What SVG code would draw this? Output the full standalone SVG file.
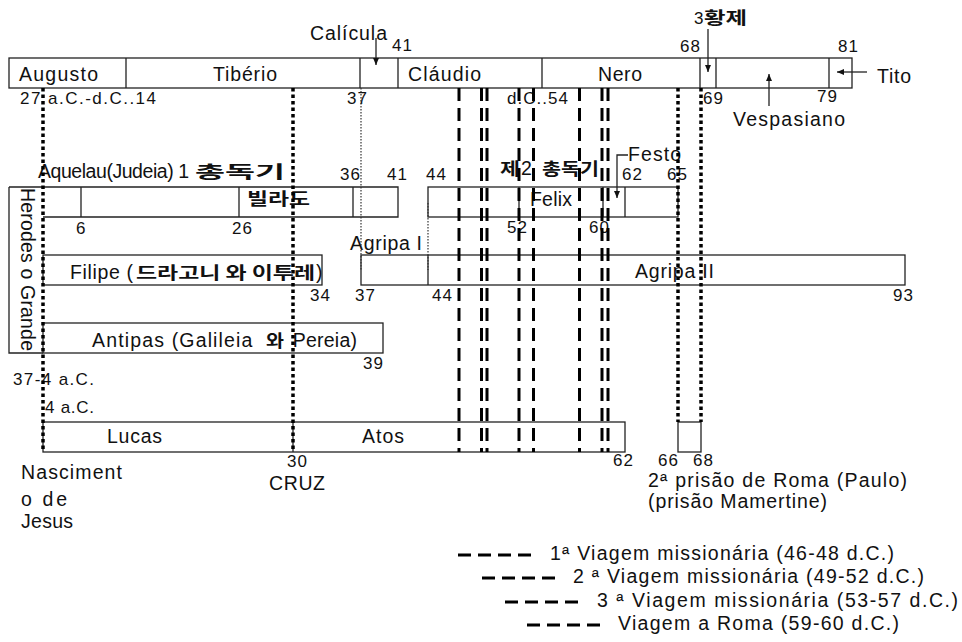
<svg xmlns="http://www.w3.org/2000/svg" width="962" height="642" viewBox="0 0 962 642">
<defs>
<style>
text{font-family:"Liberation Sans","Noto Sans CJK KR",sans-serif;fill:#111;}
.t{font-size:19.5px;letter-spacing:1px}
.n{font-size:17px;letter-spacing:1px}
.k{font-family:"Noto Sans CJK KR",sans-serif;font-weight:bold;font-size:17px;letter-spacing:0}
.box{fill:none;stroke:#222;stroke-width:1.3}
.dv{stroke:#222;stroke-width:1.3;fill:none}
.thick{stroke:#000;stroke-width:3.5;stroke-dasharray:3.5 3;fill:none}
.thin{stroke:#333;stroke-width:1.2;stroke-dasharray:1.5 1.5;fill:none}
.dash{stroke:#000;stroke-width:3;stroke-dasharray:13 7;fill:none}
.arr{stroke:#222;stroke-width:1.3;fill:none;marker-end:url(#ah)}
</style>
<marker id="ah" viewBox="0 0 7 6" refX="7" refY="3" markerWidth="7" markerHeight="6" markerUnits="userSpaceOnUse" orient="auto"><path d="M0,0 L7,3 L0,6 z" fill="#111"/></marker>
</defs>
<rect x="0" y="0" width="962" height="642" fill="#fff"/>

<g id="emperors">
<rect class="box" x="9" y="58" width="843" height="30"/>
<path class="dv" d="M126,58V88M360,58V88M398,58V88M542,58V88M700,58V88M716,58V88M829,58V88"/>
<text class="t" x="19" y="81" textLength="80">Augusto</text>
<text class="t" x="213" y="81" textLength="65">Tibério</text>
<text class="t" x="408" y="81" textLength="74">Cláudio</text>
<text class="t" x="598" y="81" textLength="45">Nero</text>
<text class="t" x="310" y="40" textLength="78">Calícula</text>
<text class="n" x="392" y="51">41</text>
<text class="n" x="694" y="24" style="letter-spacing:0"><tspan>3</tspan><tspan class="k" x="704" textLength="43" lengthAdjust="spacingAndGlyphs">황제</tspan></text>
<text class="n" x="680" y="52">68</text>
<text class="n" x="838" y="52">81</text>
<text class="t" x="877" y="83" textLength="35">Tito</text>
<text class="t" x="733" y="126" textLength="113">Vespasiano</text>
<text class="n" x="20" y="104" textLength="137">27 a.C.-d.C..14</text>
<text class="n" x="347" y="104">37</text>
<text class="n" x="507" y="104" textLength="62">d.C..54</text>
<text class="n" x="703" y="104">69</text>
<text class="n" x="817" y="102">79</text>
</g>

<g id="governors1">
<path class="dv" d="M43,217H398V187H9M81,187V217M239,187V217M353,187V217"/>
<text class="t" x="38" y="178"><tspan textLength="157">Aquelau(Judeia) 1 </tspan><tspan class="k" x="195" textLength="90" lengthAdjust="spacingAndGlyphs">총독기</tspan></text>
<text class="k" x="247" y="205" textLength="63" lengthAdjust="spacingAndGlyphs">빌라도</text>
<text class="n" x="76" y="234">6</text>
<text class="n" x="232" y="234">26</text>
<text class="n" x="340" y="180">36</text>
<text class="n" x="387" y="180">41</text>
<text class="n" x="426" y="180">44</text>
</g>

<g id="governors2">
<rect class="box" x="428" y="187" width="250" height="30"/>
<path class="dv" d="M519,187V217M603,187V217M625,187V217"/>
<text class="t" x="500" y="175"><tspan class="k" textLength="20" lengthAdjust="spacingAndGlyphs">제</tspan><tspan x="521">2 </tspan><tspan class="k" x="542" textLength="57" lengthAdjust="spacingAndGlyphs">총독기</tspan></text>
<text class="t" x="530" y="205.5" textLength="43">Felix</text>
<text class="t" x="628" y="160.5" textLength="54">Festo</text>
<text class="n" x="622" y="180">62</text>
<text class="n" x="667" y="180">65</text>
<text class="n" x="507" y="233">52</text>
<text class="n" x="589" y="233">60</text>
</g>

<g id="herodes">
<path class="dv" d="M9,187V353H43"/>
<text class="t" transform="translate(21,188) rotate(90)" x="0" y="0" textLength="164">Herodes o Grande</text>
<text class="n" x="13" y="385" textLength="82">37-4 a.C.</text>
<text class="n" x="45" y="413" textLength="50">4 a.C.</text>
</g>

<g id="filipe">
<rect class="box" x="43" y="255" width="279" height="30"/>
<text class="t" x="70" y="279"><tspan textLength="64">Filipe (</tspan><tspan class="k" x="136" textLength="179" lengthAdjust="spacingAndGlyphs">드라고니 와 이투레</tspan><tspan x="316">)</tspan></text>
<text class="n" x="310" y="301">34</text>
</g>

<g id="antipas">
<rect class="box" x="43" y="323" width="340" height="30"/>
<text class="t" x="92" y="346.5"><tspan textLength="168">Antipas (Galileia </tspan><tspan class="k" x="266" textLength="18" lengthAdjust="spacingAndGlyphs">와</tspan><tspan x="287" textLength="71"> Pereia)</tspan></text>
<text class="n" x="363" y="369">39</text>
</g>

<g id="agripa">
<rect class="box" x="361" y="255" width="544" height="30"/>
<path class="dv" d="M428,255V285"/>
<text class="t" x="350" y="250" textLength="73">Agripa I</text>
<text class="t" x="635" y="278" textLength="80">Agripa II</text>
<text class="n" x="355" y="301">37</text>
<text class="n" x="432" y="301">44</text>
<text class="n" x="893" y="301">93</text>
</g>

<g id="lucas-atos">
<rect class="box" x="43" y="422" width="582" height="30"/>
<path class="dv" d="M293,422V452"/>
<text class="t" x="107" y="443" textLength="56">Lucas</text>
<text class="t" x="362" y="443" textLength="43">Atos</text>
<text class="n" x="613" y="466">62</text>
<text class="n" x="287" y="467">30</text>
<text class="t" x="269" y="490" textLength="57">CRUZ</text>
<text class="t" x="21" y="479" textLength="102">Nasciment</text>
<text class="t" x="21" y="505.5" textLength="47">o de</text>
<text class="t" x="21" y="528" textLength="53">Jesus</text>
</g>

<g id="prison">
<rect class="box" x="678" y="422" width="23" height="30"/>
<text class="n" x="658" y="466">66</text>
<text class="n" x="693" y="466">68</text>
<text class="t" x="648" y="487" textLength="260">2ª prisão de Roma (Paulo)</text>
<text class="t" x="648" y="508" textLength="180">(prisão Mamertine)</text>
</g>

<g id="connectors">
<path class="thick" d="M43,88V452M293,88V452M678,88V422M701,88V422"/>
<path class="thin" d="M361,88V270M428,203V270"/>
<path class="dash" d="M459,88V452M481.5,88V452M487,88V452M519,88V452M533.5,88V452M579.5,88V452M602,88V452M608,88V452"/>
<path class="arr" d="M376,38V65"/>
<path class="arr" d="M708,29V72"/>
<path class="arr" d="M867,72H837"/>
<path class="arr" d="M769,106V74"/>
<path class="arr" d="M628,155H617V198"/>
</g>

<g id="legend">
<path class="dash" d="M458,555H532M482,578H555M505,602H578M527,625H602"/>
<text class="t" x="550" y="560" textLength="345">1ª Viagem missionária (46-48 d.C.)</text>
<text class="t" x="573" y="583" textLength="352">2 ª Viagem missionária (49-52 d.C.)</text>
<text class="t" x="597" y="607" textLength="362">3 ª Viagem missionária (53-57 d.C.)</text>
<text class="t" x="618" y="630" textLength="282">Viagem a Roma (59-60 d.C.)</text>
</g>
</svg>
